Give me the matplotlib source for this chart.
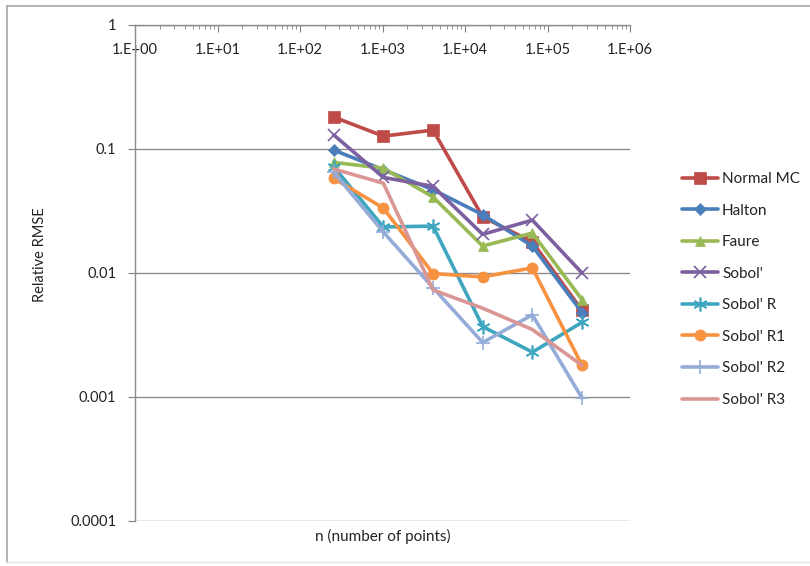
import matplotlib
matplotlib.use("Agg")
import matplotlib.pyplot as plt
from matplotlib.ticker import LogLocator, FixedLocator, FixedFormatter, NullFormatter
from matplotlib.lines import Line2D

plt.rcParams['font.family'] = ['Lato', 'DejaVu Sans']

# number of points per run
n_points = [256, 1024, 4096, 16384, 65536, 262144]

normal_mc = [0.181, 0.127, 0.142, 0.0283, 0.0178, 0.0050]
halton    = [0.098, 0.068, 0.047, 0.0295, 0.0165, 0.0048]
faure     = [0.078, 0.070, 0.041, 0.0165, 0.0210, 0.0061]
sobol     = [0.130, 0.059, 0.050, 0.0205, 0.0267, 0.0100]
sobol_r   = [0.072, 0.0235, 0.0239, 0.0037, 0.0023, 0.0040]
sobol_r1  = [0.058, 0.0334, 0.0099, 0.0093, 0.0110, 0.0018]
sobol_r2  = [0.065, 0.0214, 0.0076, 0.00275, 0.0046, 0.00098]
sobol_r3  = [0.069, 0.053, 0.0073, 0.0052, 0.0035, 0.0018]

series_names = ["Normal MC", "Halton", "Faure", "Sobol'", "Sobol' R",
                "Sobol' R1", "Sobol' R2", "Sobol' R3"]
series_values = [normal_mc, halton, faure, sobol, sobol_r,
                 sobol_r1, sobol_r2, sobol_r3]

x_tick_values = [1, 10, 100, 1000, 1e4, 1e5, 1e6]
x_tick_labels = ["1.E+00", "1.E+01", "1.E+02", "1.E+03", "1.E+04", "1.E+05", "1.E+06"]
y_tick_values = [1, 0.1, 0.01, 0.001, 0.0001]
y_tick_labels = ["1", "0.1", "0.01", "0.001", "0.0001"]

colors = ["#BE4B48", "#4A7EBB", "#98B954", "#7D60A0", "#3FA6C0",
          "#F69240", "#95ABD8", "#DA9694"]
markers = ["s", "D", "^", "x", (6, 2, 0), "o", "+", None]
msizes = [8, 6.5, 7.5, 9, 10, 8, 10, 0]

W, H = 810, 566
fig = plt.figure(figsize=(W / 100, H / 100), dpi=100)
ax = fig.add_axes([135 / W, 1 - 521 / H, (630 - 135) / W, (521 - 25) / H])

handles = []
for name, vals, c, m, ms in zip(series_names, series_values, colors, markers, msizes):
    kw = dict(color=c, lw=2.6, solid_joinstyle="round", solid_capstyle="round")
    if m is not None:
        kw.update(marker=m, markersize=ms, markerfacecolor=c, markeredgecolor=c,
                  markeredgewidth=1.2 if m in ("x", "+") or isinstance(m, tuple) else 0.5)
    ax.plot(n_points, vals, **kw)
    handles.append(Line2D([], [], label=name, **kw))

ax.set_xscale("log")
ax.set_yscale("log")
ax.set_xlim(1, 1e6)
ax.set_ylim(1e-4, 1)

# x axis sits along the top with labels just below it
ax.xaxis.set_major_locator(FixedLocator(x_tick_values))
ax.xaxis.set_major_formatter(FixedFormatter(x_tick_labels))
ax.xaxis.set_minor_locator(LogLocator(base=10, subs=range(2, 10), numticks=20))
ax.xaxis.set_minor_formatter(NullFormatter())
ax.tick_params(axis="x", which="both", bottom=False, labelbottom=False,
               top=True, labeltop=True, direction="in", colors="#808080",
               labelcolor="#222222", labelsize=10.5)
ax.tick_params(axis="x", which="major", length=5, pad=-23, width=0.8)
ax.tick_params(axis="x", which="minor", length=3, width=0.6)

ax.yaxis.set_major_locator(FixedLocator(y_tick_values))
ax.yaxis.set_major_formatter(FixedFormatter(y_tick_labels))
ax.yaxis.set_minor_locator(FixedLocator([]))
ax.tick_params(axis="y", which="major", direction="out", length=5, width=0.8,
               colors="#808080", labelcolor="#222222", labelsize=10.5, pad=8.5)

ax.grid(True, axis="y", which="major", color="#8C8C8C", lw=1.0)
ax.set_axisbelow(True)
for s in ("right", "bottom"):
    ax.spines[s].set_visible(False)
for s in ("left", "top"):
    ax.spines[s].set_color("#8C8C8C")
    ax.spines[s].set_linewidth(1.0)

fig.text(40 / W, 1 - 255 / H, "Relative RMSE", rotation=90, ha="center",
         va="center", fontsize=10.5, color="#222222")
fig.text(383 / W, 1 - 536 / H, "n (number of points)", ha="center",
         va="center", fontsize=11, color="#222222")

leg = fig.legend(handles=handles, loc="upper left",
                 bbox_to_anchor=(682 / W, 1 - 172 / H), frameon=False,
                 fontsize=11, handlelength=2.35, handletextpad=0.27,
                 labelspacing=1.15, borderaxespad=0, borderpad=0)
for t in leg.get_texts():
    t.set_color("#222222")

# chart frame
fig.add_artist(Line2D([7 / W, 7 / W], [1 - 6 / H, 1 - 562 / H],
                      transform=fig.transFigure, color="#A8A8A8", lw=1.2))
fig.add_artist(Line2D([7 / W, 1.0], [1 - 6 / H, 1 - 6 / H],
                      transform=fig.transFigure, color="#A8A8A8", lw=1.2))
fig.add_artist(Line2D([7 / W, 1.0], [1 - 562 / H, 1 - 562 / H],
                      transform=fig.transFigure, color="#E4E4E4", lw=1.0))

fig.savefig("out.png", dpi=100)
